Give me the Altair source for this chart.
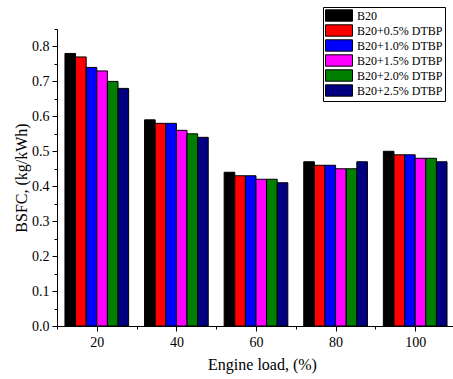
import altair as alt
import pandas as pd

loads = [20, 40, 60, 80, 100]
series = ["B20", "B20+0.5% DTBP", "B20+1.0% DTBP", "B20+1.5% DTBP",
          "B20+2.0% DTBP", "B20+2.5% DTBP"]
colors = ["#000000", "#FF0000", "#0000FF", "#FF00FF", "#008000", "#000080"]
values = {
    "B20":           [0.78, 0.59, 0.44, 0.47, 0.50],
    "B20+0.5% DTBP": [0.77, 0.58, 0.43, 0.46, 0.49],
    "B20+1.0% DTBP": [0.74, 0.58, 0.43, 0.46, 0.49],
    "B20+1.5% DTBP": [0.73, 0.56, 0.42, 0.45, 0.48],
    "B20+2.0% DTBP": [0.70, 0.55, 0.42, 0.45, 0.48],
    "B20+2.5% DTBP": [0.68, 0.54, 0.41, 0.47, 0.47],
}
x_ticks = [10, 20, 30, 40, 50, 60, 70, 80, 90, 100]
y_ticks = [round(i * 0.05, 2) for i in range(18)]

rows = []
for si, s in enumerate(series):
    for li, load in enumerate(loads):
        rows.append({"load": load, "series": s, "idx": si, "bsfc": values[s][li]})
df = pd.DataFrame(rows)

FONT = "Liberation Serif"
GROUP = 16.0
NS = len(series)

bars = alt.Chart(df).transform_calculate(
    x0=f"datum.load - {GROUP/2} + datum.idx * {GROUP/NS}",
    x1=f"datum.load - {GROUP/2} + (datum.idx + 1) * {GROUP/NS}",
).mark_bar(stroke="black", strokeWidth=1, opacity=1).encode(
    x=alt.X("x0:Q",
            scale=alt.Scale(domain=[10, 109.5], nice=False, zero=False),
            axis=alt.Axis(
                title="Engine load, (%)",
                titleX=205,
                values=x_ticks,
                labelExpr="datum.value % 20 == 0 ? format(datum.value, 'd') : ''",
                tickSize={"condition": {"test": "datum.value % 20 == 0", "value": 5}, "value": 3},
                grid=False,
                labelPadding=4,
                titlePadding=7,
                labelFlush=False,
                labelOverlap=False,
            )),
    x2="x1:Q",
    y=alt.Y("bsfc:Q",
            scale=alt.Scale(domain=[0, 0.85], nice=False),
            axis=alt.Axis(
                title="BSFC, (kg/kWh)",
                values=y_ticks,
                labelExpr="round(datum.value * 20) % 2 == 0 ? format(datum.value, '.1f') : ''",
                tickSize={"condition": {"test": "round(datum.value * 20) % 2 == 0", "value": 5}, "value": 3},
                grid=False,
                labelPadding=3,
                titlePadding=2,
                labelFlush=False,
                labelOverlap=False,
            )),
    y2=alt.datum(0),
    color=alt.Color("series:N",
                    scale=alt.Scale(domain=series, range=colors),
                    sort=series,
                    legend=alt.Legend(
                        title=None,
                        orient="none",
                        legendX=266,
                        legendY=-22,
                        symbolType="M-1,-0.95H3.5V0.95H-1Z",
                        symbolSize=144,
                        symbolStrokeColor="black",
                        symbolStrokeWidth=1,
                        symbolOpacity=1,
                        labelFont=FONT,
                        labelFontSize=12,
                        labelColor="black",
                        labelOffset=19,
                        padding=2,
                        rowPadding=-3,
                        strokeColor="black",
                        fillColor="white",
                    )),
)

chart = bars.properties(
    width=396,
    height=297,
    padding={"left": 57, "top": 29, "right": 0, "bottom": 53},
    autosize=alt.AutoSizeParams(type="none"),
).configure_view(stroke=None).configure_axis(
    labelFont=FONT,
    labelFontSize=14,
    labelColor="black",
    titleFont=FONT,
    titleFontSize=16,
    titleFontWeight="normal",
    titleColor="black",
    domainColor="black",
    tickColor="black",
    domainWidth=1,
    tickWidth=1,
)

chart.save("out.html", embed_options={"renderer": "svg", "actions": False})
